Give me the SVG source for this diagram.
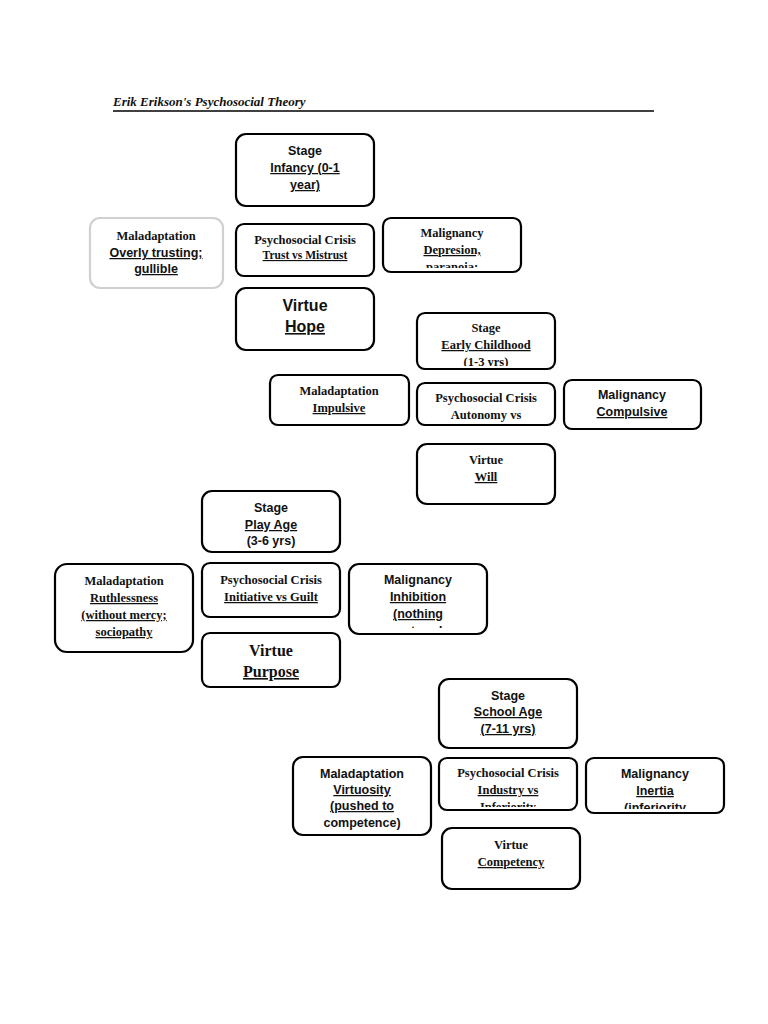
<svg xmlns="http://www.w3.org/2000/svg" width="768" height="1024" viewBox="0 0 768 1024">
<style>
rect{fill:#fff;stroke:#000;stroke-width:2.2}
.g{stroke:#d0d0d0}
text{text-anchor:middle;font-weight:bold;fill:#111}
.s{font-family:"Liberation Sans",Arial,sans-serif;font-size:12.5px}
.r{font-family:"Liberation Serif","Times New Roman",serif;font-size:12.5px}
.u{text-decoration:underline}
.big{font-size:16px}
</style>
<defs>
<clipPath id="c1"><rect x="383" y="218" width="138" height="50"/></clipPath>
<clipPath id="c2"><rect x="417" y="313" width="138" height="53"/></clipPath>
<clipPath id="c3"><rect x="417" y="383" width="138" height="40"/></clipPath>
<clipPath id="c4"><rect x="349" y="564" width="138" height="64"/></clipPath>
<clipPath id="c5"><rect x="439" y="758" width="138" height="49"/></clipPath>
<clipPath id="c6"><rect x="586" y="758" width="138" height="51"/></clipPath>
</defs>
<text x="113" y="106" style="text-anchor:start;font-family:'Liberation Serif',serif;font-style:italic;font-size:13px">Erik Erikson's Psychosocial Theory</text>
<line x1="113" y1="111" x2="654" y2="111" stroke="#000" stroke-width="1.5"/>
<g id="connectors"></g>

<g id="stage1"><rect x="236" y="134" width="138" height="72" rx="10"/><text class="s" x="305" y="155">Stage</text><text class="s u" x="305" y="172">Infancy (0-1</text><text class="s u" x="305" y="189">year)</text></g>
<g id="mal1"><rect class="g" x="90" y="218" width="133" height="70" rx="10"/><text class="r" x="156" y="240">Maladaptation</text><text class="s u" x="156" y="257">Overly trusting;</text><text class="s u" x="156" y="273">gullible</text></g>
<g id="crisis1"><rect x="236" y="224" width="138" height="52" rx="8"/><text class="r" x="305" y="244">Psychosocial Crisis</text><text class="r u" x="305" y="259" style="font-size:11.5px">Trust vs Mistrust</text></g>
<g id="malig1"><rect x="383" y="218" width="138" height="54" rx="8"/><g clip-path="url(#c1)"><text class="r" x="452" y="237">Malignancy</text><text class="r u" x="452" y="254">Depresion,</text><text class="r u" x="452" y="271">paranoia;</text></g></g>
<g id="virtue1"><rect x="236" y="288" width="138" height="62" rx="10"/><text class="s" x="305" y="311" style="font-size:16px">Virtue</text><text class="s u" x="305" y="332" style="font-size:16px">Hope</text></g>

<g id="stage2"><rect x="417" y="313" width="138" height="56" rx="8"/><g clip-path="url(#c2)"><text class="r" x="486" y="332">Stage</text><text class="r u" x="486" y="349">Early Childhood</text><text class="r" x="486" y="366">(1-3 yrs)</text></g></g>
<g id="mal2"><rect x="270" y="375" width="139" height="50" rx="8"/><text class="r" x="339" y="395">Maladaptation</text><text class="r u" x="339" y="412">Impulsive</text></g>
<g id="crisis2"><rect x="417" y="383" width="138" height="42" rx="8"/><g clip-path="url(#c3)"><text class="r" x="486" y="402">Psychosocial Crisis</text><text class="r" x="486" y="419">Autonomy vs</text></g></g>
<g id="malig2"><rect x="564" y="380" width="137" height="49" rx="8"/><text class="s" x="632" y="399">Malignancy</text><text class="s u" x="632" y="416">Compulsive</text></g>
<g id="virtue2"><rect x="417" y="444" width="138" height="60" rx="10"/><text class="r" x="486" y="464">Virtue</text><text class="r u" x="486" y="481">Will</text></g>

<g id="stage3"><rect x="202" y="491" width="138" height="61" rx="10"/><text class="s" x="271" y="512">Stage</text><text class="s u" x="271" y="529">Play Age</text><text class="s" x="271" y="545">(3-6 yrs)</text></g>
<g id="mal3"><rect x="55" y="564" width="138" height="88" rx="12"/><text class="r" x="124" y="585">Maladaptation</text><text class="r u" x="124" y="602">Ruthlessness</text><text class="r u" x="124" y="619">(without mercy;</text><text class="r u" x="124" y="636">sociopathy</text></g>
<g id="crisis3"><rect x="202" y="563" width="138" height="54" rx="8"/><text class="r" x="271" y="584">Psychosocial Crisis</text><text class="r u" x="271" y="601">Initiative vs Guilt</text></g>
<g id="malig3"><rect x="349" y="564" width="138" height="70" rx="10"/><g clip-path="url(#c4)"><text class="s" x="418" y="584">Malignancy</text><text class="s u" x="418" y="601">Inhibition</text><text class="s u" x="418" y="618">(nothing</text><text class="s u" x="418" y="635">ventured;</text></g></g>
<g id="virtue3"><rect x="202" y="633" width="138" height="54" rx="8"/><text class="r" x="271" y="656" style="font-size:16px">Virtue</text><text class="r u" x="271" y="677" style="font-size:16px">Purpose</text></g>

<g id="stage4"><rect x="439" y="679" width="138" height="69" rx="10"/><text class="s" x="508" y="700">Stage</text><text class="s u" x="508" y="716">School Age</text><text class="s u" x="508" y="733">(7-11 yrs)</text></g>
<g id="mal4"><rect x="293" y="757" width="138" height="78" rx="10"/><text class="s" x="362" y="778">Maladaptation</text><text class="s u" x="362" y="794">Virtuosity</text><text class="s u" x="362" y="810">(pushed to</text><text class="s" x="362" y="827">competence)</text></g>
<g id="crisis4"><rect x="439" y="758" width="138" height="52" rx="8"/><g clip-path="url(#c5)"><text class="r" x="508" y="777">Psychosocial Crisis</text><text class="r u" x="508" y="794">Industry vs</text><text class="r u" x="508" y="811">Inferiority</text></g></g>
<g id="malig4"><rect x="586" y="758" width="138" height="55" rx="8"/><g clip-path="url(#c6)"><text class="s" x="655" y="778">Malignancy</text><text class="s u" x="655" y="795">Inertia</text><text class="s u" x="655" y="812">(inferiority</text></g></g>
<g id="virtue4"><rect x="442" y="828" width="138" height="61" rx="10"/><text class="r" x="511" y="849">Virtue</text><text class="r u" x="511" y="866">Competency</text></g>
</svg>
